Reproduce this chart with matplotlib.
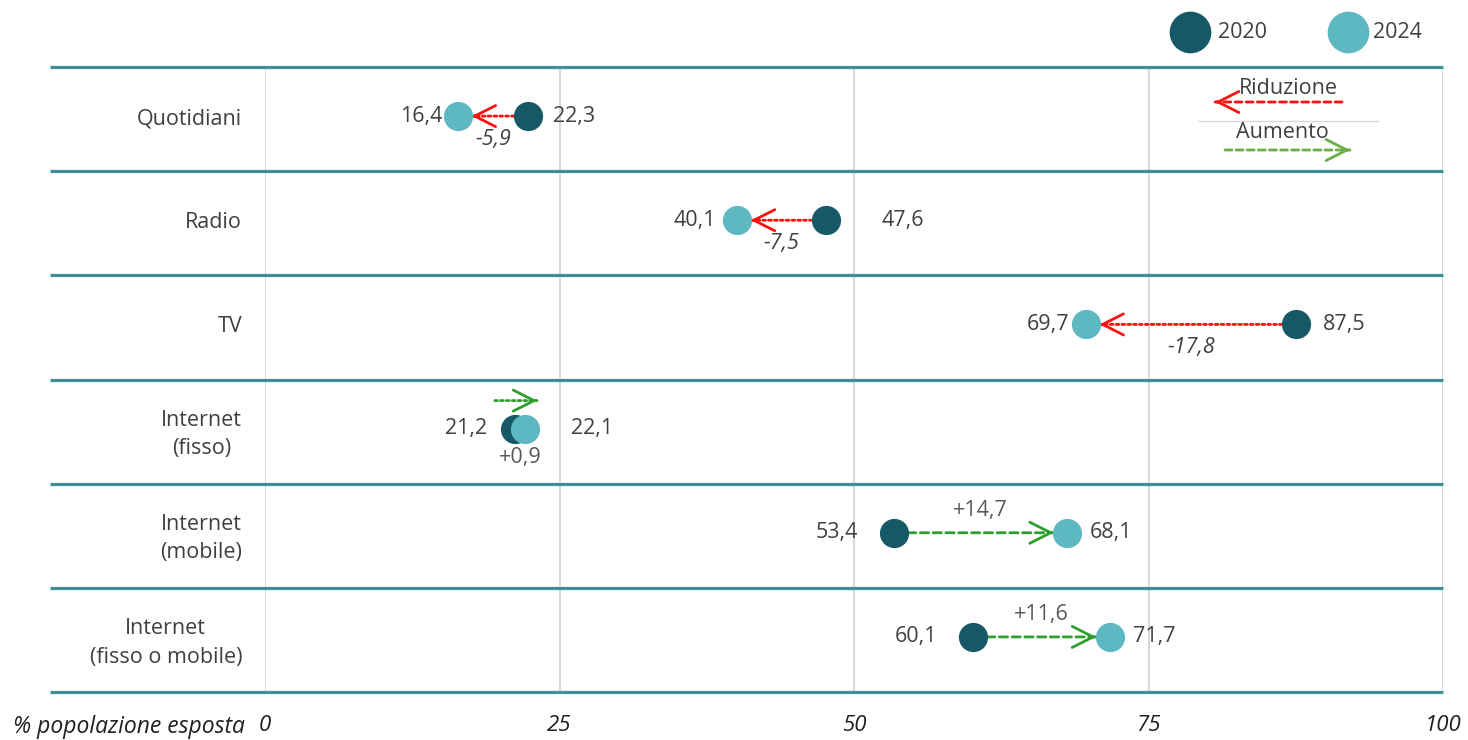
"""
Esposizione ai media 2020 vs 2024 — dumbbell chart with change arrows.
"""

import numpy as np
import matplotlib.pyplot as plt
from matplotlib.lines import Line2D

# =========================================================
# Data
# =========================================================

categories = [
    "Quotidiani",
    "Radio",
    "TV",
    "Internet\n(fisso)",
    "Internet\n(mobile)",
    "Internet\n(fisso o mobile)",
]
val_2020 = [22.3, 47.6, 87.5, 21.2, 53.4, 60.1]
val_2024 = [16.4, 40.1, 69.7, 22.1, 68.1, 71.7]
x_ticks = [0, 25, 50, 75, 100]
x_label = "% popolazione esposta"

# =========================================================
# Style
# =========================================================

W, H = 1468, 740
C_2020 = "#175866"
C_2024 = "#5eb8c2"
C_SEP = "#3f9199"
C_GRID = "#d9d9d9"
C_TEXT = "#404040"
C_RED = "#ff1010"
C_GREEN = "#2e9e2e"
C_GREEN_LEG = "#6aae45"

line_styles = ["dot", "dot", "dot", "dot", "dash", "dash"]
gap_left = [16, 21, 17, 28, 36, 36]     # px between left dot and its label
gap_right = [25, 56, 27, 46, 23, 23]    # px between right dot and its label

DOT = (0, (1, 1.1))
DASH = (0, (3, 1.6))

plt.rcParams["font.family"] = ["Open Sans", "DejaVu Sans"]
FS = 15.5

fig = plt.figure(figsize=(W / 100, H / 100), dpi=100)
ax = fig.add_axes([265 / W, (H - 692) / H, 1178 / W, 625 / H])
ax.set_xlim(0, 100)
ax.set_ylim(len(categories) - 0.5, -0.5)

px_per_unit = 1178 / 100
r_data = 13.5 / px_per_unit      # dot radius in data units
y_shift = -3 / 104.2             # dots sit a little above the row centre


def px2pt(p):
    return p * 0.72


# grid + separators
for t in x_ticks:
    ax.axvline(t, color=C_GRID, lw=1.5, zorder=0)
for k in range(len(categories) + 1):
    ax.plot([-18.25, 100], [k - 0.5, k - 0.5], color=C_SEP, lw=2.3,
            clip_on=False, zorder=1, solid_capstyle="butt")


def draw_arrow(x_tail, x_tip, y, color, ls, coords="data"):
    ax.annotate("", xy=(x_tip, y), xytext=(x_tail, y), xycoords=coords,
                textcoords=coords,
                arrowprops=dict(arrowstyle="-", color=color, lw=2,
                                linestyle=ls, shrinkA=0, shrinkB=0),
                annotation_clip=False)
    step = 0.3 if coords == "data" else 3
    d = np.sign(x_tip - x_tail)
    ax.annotate("", xy=(x_tip, y), xytext=(x_tip - d * step, y),
                xycoords=coords, textcoords=coords,
                arrowprops=dict(arrowstyle="->,head_length=0.75,head_width=0.38",
                                color=color, lw=2, shrinkA=0, shrinkB=0,
                                mutation_scale=20),
                annotation_clip=False)


for i, (a, b) in enumerate(zip(val_2020, val_2024)):
    delta = b - a
    d = np.sign(delta)
    color = C_RED if delta < 0 else C_GREEN
    ls = DOT if line_styles[i] == "dot" else DASH
    y = i + y_shift

    if abs(delta) >= 2:
        draw_arrow(a + d * r_data, b - d * r_data, y, color, ls)
        dy = 23 if delta < 0 else -22
    else:
        draw_arrow(a - d * 1.7, b + d * 1.0, y - 28 / 104.2, color, ls)
        dy = 29

    ax.plot(a, y, "o", ms=20, color=C_2020, mec=C_2020, zorder=4)
    ax.plot(b, y, "o", ms=20, color=C_2024, mec=C_2024, zorder=5)

    lo, hi = min(a, b), max(a, b)
    ax.annotate(f"{lo:.1f}".replace(".", ","), (lo, y),
                xytext=(-px2pt(gap_left[i]), 0), textcoords="offset points",
                ha="right", va="center", fontsize=FS, color=C_TEXT)
    ax.annotate(f"{hi:.1f}".replace(".", ","), (hi, y),
                xytext=(px2pt(gap_right[i]), 0), textcoords="offset points",
                ha="left", va="center", fontsize=FS, color=C_TEXT)

    txt = f"{delta:+.1f}".replace(".", ",")
    ax.annotate(txt, ((a + b) / 2, y), xytext=(0, -px2pt(dy)),
                textcoords="offset points", ha="center", va="center",
                fontsize=FS, color=C_TEXT if delta < 0 else "#595959",
                style="italic" if delta < 0 else "normal")

# axes
ax.set_xticks(x_ticks)
ax.set_xticklabels([str(t) for t in x_ticks], style="italic", fontsize=FS + 0.5,
                   color="#202020")
ax.set_yticks(np.arange(len(categories)) + y_shift)
ax.set_yticklabels(categories, fontsize=FS, color=C_TEXT)
for lab in ax.get_yticklabels():
    lab.set_multialignment("center")
    lab.set_linespacing(1.45)
ax.tick_params(axis="x", length=0, pad=px2pt(23))
ax.tick_params(axis="y", length=0, pad=px2pt(23))
for s in ax.spines.values():
    s.set_visible(False)

fig.text(245 / W, 1 - 727 / H, x_label, ha="right", va="center",
         style="italic", fontsize=FS + 1, color="#202020")

# legend: years
for xc, xt, c, lab in [(1190, 1218, C_2020, "2020"), (1348, 1373, C_2024, "2024")]:
    fig.add_artist(Line2D([xc / W], [1 - 32 / H], marker="o", ms=29, color=c,
                          transform=fig.transFigure))
    fig.text(xt / W, 1 - 32 / H, lab, ha="left", va="center", fontsize=FS,
             color=C_TEXT)

# legend: arrows
draw_arrow(1342, 1215, H - 102, C_RED, (0, (2.5, 1.5)), coords="figure pixels")
draw_arrow(1225, 1350, H - 150, C_GREEN_LEG, (0, (2.5, 1.5)), coords="figure pixels")
fig.add_artist(Line2D([1198 / W, 1378 / W], [1 - 121 / H, 1 - 121 / H],
                      color=C_GRID, lw=1, transform=fig.transFigure))
fig.text(1288 / W, 1 - 89 / H, "Riduzione", ha="center", va="center",
         fontsize=FS, color=C_TEXT)
fig.text(1282 / W, 1 - 133 / H, "Aumento", ha="center", va="center",
         fontsize=FS, color=C_TEXT)

fig.savefig("out.png", dpi=100)
